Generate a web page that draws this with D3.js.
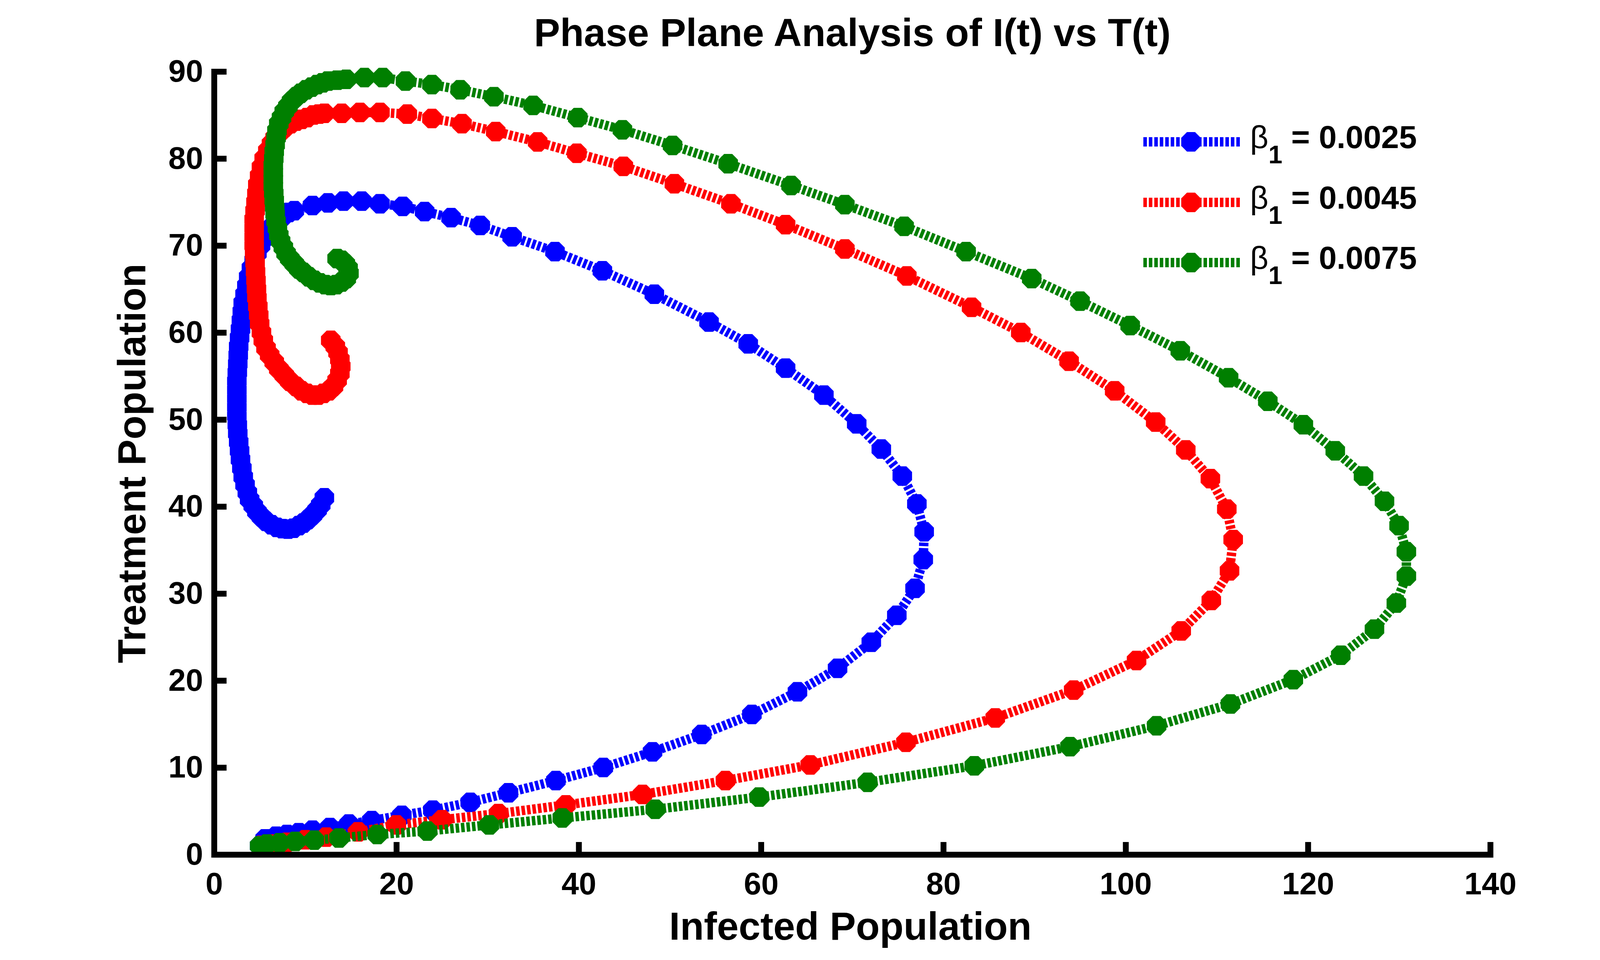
<!DOCTYPE html>
<html>
<head>
<meta charset="utf-8">
<script src="https://cdn.jsdelivr.net/npm/d3@7"></script>
<style>
  body { margin: 0; background: #fff; }
  svg { display: block; font-family: "Liberation Sans", Arial, sans-serif; }
</style>
</head>
<body>
<div id="graphic"></div>
<script>
// phase plane I(t) vs T(t), three beta_1 runs
var betaLabels = ["0.0025", "0.0045", "0.0075"];
var colors = ["#0000ff", "#ff0000", "#007f00"];
var xTicks = [0, 20, 40, 60, 80, 100, 120, 140];
var yTicks = [0, 10, 20, 30, 40, 50, 60, 70, 80, 90];

// [infected, treatment]
var run0025 = [
  [5.0,1.0],[5.6,1.8],[6.8,2.1],[8.0,2.3],[9.3,2.5],[10.8,2.8],[12.7,3.1],[14.8,3.5],[17.3,3.9],[20.6,4.5],
  [24.0,5.1],[28.1,6.0],[32.3,7.1],[37.5,8.5],[42.7,10.0],[48.1,11.8],[53.5,13.8],[59.0,16.1],[64.0,18.7],
  [68.4,21.4],[72.1,24.4],[74.9,27.5],[76.9,30.6],[77.8,33.9],[77.9,37.1],[77.1,40.3],[75.5,43.5],[73.2,46.6],
  [70.5,49.5],[66.9,52.8],[62.7,55.9],[58.6,58.7],[54.3,61.2],[48.3,64.4],[42.6,67.1],[37.4,69.3],[32.7,71.0],
  [29.2,72.3],[26.0,73.2],[23.1,73.9],[20.7,74.5],[18.2,74.8],[16.2,75.1],[14.2,75.1],[12.5,74.9],[10.8,74.6],
  [8.8,74.0],[8.2,73.8],[7.6,73.4],[7.0,72.8],[6.5,72.3],[6.0,71.6],[5.5,70.8],[5.1,70.0],[4.7,69.1],[4.4,68.3],
  [4.1,67.4],[3.8,66.4],[3.6,65.4],[3.4,64.4],[3.2,63.4],[3.1,62.4],[3.0,61.4],[2.9,60.4],[2.8,59.4],[2.7,58.4],
  [2.65,57.4],[2.6,56.4],[2.55,55.4],[2.5,54.4],[2.5,53.4],[2.5,52.4],[2.5,51.4],[2.5,50.4],[2.55,49.4],[2.6,48.4],
  [2.7,47.4],[2.8,46.4],[2.9,45.4],[3.05,44.4],[3.2,43.4],[3.4,42.5],[3.65,41.6],[3.9,40.8],[4.3,40.1],[4.7,39.4],
  [5.2,38.8],[5.7,38.3],[6.3,37.9],[6.9,37.6],[7.5,37.45],[8.1,37.4],[8.7,37.5],[9.3,37.8],[9.8,38.1],[10.3,38.5],
  [10.8,39.0],[11.3,39.6],[11.7,40.2],[12.1,41.0]
];
var run0045 = [
  [5.2,1.05],[6.4,1.2],[8.0,1.4],[10.0,1.7],[12.3,2.0],[15.8,2.6],[20.0,3.4],[25.0,4.0],[31.2,4.7],[38.6,5.7],
  [47.0,6.9],[56.1,8.5],[65.4,10.3],[75.9,12.9],[85.7,15.7],[94.3,18.9],[101.2,22.3],[106.1,25.7],[109.4,29.2],
  [111.4,32.6],[111.8,36.2],[111.1,39.7],[109.3,43.2],[106.6,46.5],[103.3,49.7],[98.8,53.3],[93.8,56.7],
  [88.5,60.0],[83.1,62.9],[76.0,66.5],[69.2,69.6],[62.7,72.4],[56.7,74.8],[50.5,77.1],[44.9,79.1],[39.8,80.6],
  [35.5,81.9],[30.9,83.1],[27.2,84.0],[23.9,84.6],[21.2,85.1],[18.2,85.3],[16.0,85.3],[14.0,85.2],[12.1,85.2],
  [11.5,85.1],[10.9,85.0],[10.2,84.7],[9.6,84.5],[9.0,84.3],[8.4,84.0],[7.8,83.6],[7.2,83.0],[6.7,82.4],[6.3,81.7],
  [5.9,80.9],[5.5,80.0],[5.2,79.0],[5.0,78.0],[4.8,77.0],[4.7,76.0],[4.6,75.0],[4.5,74.0],[4.4,73.0],[4.4,72.0],
  [4.4,71.0],[4.4,70.0],[4.45,69.0],[4.5,68.0],[4.55,67.0],[4.6,66.0],[4.65,65.0],[4.7,64.0],[4.8,63.0],[4.9,62.0],
  [5.0,61.0],[5.2,60.0],[5.4,59.1],[5.7,58.2],[6.1,57.4],[6.6,56.6],[7.1,55.8],[7.7,55.1],[8.3,54.4],[9.0,53.8],
  [9.6,53.3],[10.2,53.0],[10.8,52.8],[11.4,52.8],[12.0,53.0],[12.6,53.3],[13.1,53.8],[13.5,54.5],[13.8,55.3],
  [13.9,56.1],[13.8,56.9],[13.6,57.7],[13.3,58.4],[12.8,59.1]
];
var run0075 = [
  [5.0,1.0],[5.8,1.2],[7.2,1.35],[8.9,1.5],[11.0,1.65],[13.7,1.9],[17.9,2.3],[23.4,2.7],[30.2,3.4],[38.2,4.2],
  [48.4,5.2],[59.8,6.6],[71.7,8.3],[83.4,10.2],[93.9,12.4],[103.4,14.8],[111.5,17.3],[118.4,20.1],[123.6,22.9],
  [127.3,25.9],[129.7,28.9],[130.8,32.0],[130.8,34.8],[130.0,37.8],[128.4,40.6],[126.1,43.5],[123.0,46.4],
  [119.5,49.4],[115.6,52.1],[111.3,54.8],[106.0,57.9],[100.5,60.8],[95.0,63.6],[89.7,66.2],[82.5,69.3],
  [75.7,72.2],[69.2,74.7],[63.3,76.9],[56.4,79.4],[50.3,81.5],[44.8,83.3],[39.9,84.7],[35.0,86.1],[30.7,87.1],
  [27.0,87.9],[23.9,88.5],[21.0,88.9],[18.5,89.3],[16.5,89.3],[14.5,89.1],[13.5,89.0],[12.5,88.9],[11.9,88.7],
  [11.3,88.5],[10.7,88.2],[10.1,87.9],[9.5,87.5],[9.0,87.1],[8.5,86.6],[8.1,86.0],[7.7,85.4],[7.4,84.7],[7.1,84.0],
  [6.9,83.2],[6.8,82.4],[6.7,81.6],[6.6,80.8],[6.55,80.0],[6.5,79.2],[6.5,78.4],[6.5,77.6],[6.5,76.8],[6.55,76.0],
  [6.6,75.2],[6.65,74.4],[6.7,73.6],[6.8,72.8],[6.95,72.0],[7.1,71.2],[7.3,70.5],[7.6,69.8],[7.9,69.1],[8.3,68.5],
  [8.8,67.9],[9.3,67.3],[9.8,66.9],[10.4,66.4],[11.0,66.0],[11.6,65.7],[12.2,65.5],[12.8,65.4],[13.4,65.5],
  [14.0,65.8],[14.5,66.2],[14.8,66.8],[14.7,67.4],[14.4,67.9],[14.0,68.3],[13.5,68.5]
];
var runs = [run0025, run0045, run0075];

var W = 4216, H = 2457;

var x = d3.scaleLinear().domain([0, 140]).range([548, 3815]);
var y = d3.scaleLinear().domain([0, 90]).range([2187, 183]);

var svg = d3.select("#graphic").append("svg")
  .attr("width", W).attr("height", H);

svg.append("rect").attr("width", W).attr("height", H).attr("fill", "#fff");

// octagon like the matlab 'o' marker at big sizes
var octagon = {
  draw: function(ctx, size) {
    var r = Math.sqrt(size) / 2 / Math.cos(Math.PI / 8);
    for (var i = 0; i < 8; i++) {
      var a = Math.PI / 8 + i * Math.PI / 4;
      if (i === 0) ctx.moveTo(r * Math.cos(a), r * Math.sin(a));
      else ctx.lineTo(r * Math.cos(a), r * Math.sin(a));
    }
    ctx.closePath();
  }
};
var marker = d3.symbol().type(octagon).size(50 * 50);

var line = d3.line().x(function(d) { return x(d[0]); }).y(function(d) { return y(d[1]); });

runs.forEach(function(run, i) {
  var g = svg.append("g");
  g.append("path").datum(run)
    .attr("d", line)
    .attr("fill", "none")
    .attr("stroke", colors[i])
    .attr("stroke-width", 24)
    .attr("stroke-dasharray", "9,5");
  g.selectAll("path.m").data(run).enter().append("path")
    .attr("class", "m")
    .attr("d", marker)
    .attr("transform", function(d) { return "translate(" + x(d[0]) + "," + y(d[1]) + ")"; })
    .attr("fill", colors[i]);
});

// axes
var xAxis = svg.append("g").attr("transform", "translate(0,2187)")
  .call(d3.axisBottom(x).tickValues(xTicks).tickSizeInner(-32).tickSizeOuter(0).tickPadding(45));
var yAxis = svg.append("g").attr("transform", "translate(548,0)")
  .call(d3.axisLeft(y).tickValues(yTicks).tickSizeInner(-32).tickSizeOuter(0).tickPadding(28));

[xAxis, yAxis].forEach(function(a) {
  a.select(".domain").attr("stroke", "#000").attr("stroke-width", 15).attr("stroke-linecap", "square");
  a.selectAll(".tick line").attr("stroke", "#000").attr("stroke-width", 15);
  a.selectAll(".tick text")
    .attr("fill", "#000")
    .style("font-size", "80px")
    .style("font-weight", "bold")
    .style("font-family", "'Liberation Sans', Arial, sans-serif");
});

// titles
svg.append("text").attr("x", 2182).attr("y", 118)
  .attr("text-anchor", "middle").style("font-size", "100px").style("font-weight", "bold")
  .text("Phase Plane Analysis of I(t) vs T(t)");
svg.append("text").attr("x", 2177).attr("y", 2405)
  .attr("text-anchor", "middle").style("font-size", "100px").style("font-weight", "bold")
  .text("Infected Population");
svg.append("text").attr("transform", "translate(372,1186) rotate(-90)")
  .attr("text-anchor", "middle").style("font-size", "100px").style("font-weight", "bold")
  .text("Treatment Population");

// legend
var legendRows = [363, 518, 672];
betaLabels.forEach(function(lab, i) {
  var ly = legendRows[i];
  var g = svg.append("g");
  g.append("path").datum([[2927, ly], [3174, ly]])
    .attr("d", d3.line())
    .attr("stroke", colors[i]).attr("stroke-width", 24).attr("stroke-dasharray", "9,5").attr("fill", "none");
  g.append("path").attr("d", marker).attr("transform", "translate(3049," + ly + ")").attr("fill", colors[i]);
  var t = g.append("text").attr("x", 3200).attr("y", ly + 16).style("font-size", "82px");
  t.append("tspan").style("font-weight", "normal").text("\u03b2");
  t.append("tspan").attr("dy", 39).style("font-size", "64px").style("font-weight", "bold").text("1");
  t.append("tspan").attr("dy", -39).style("font-weight", "bold").text(" = " + lab);
});
</script>
</body>
</html>
